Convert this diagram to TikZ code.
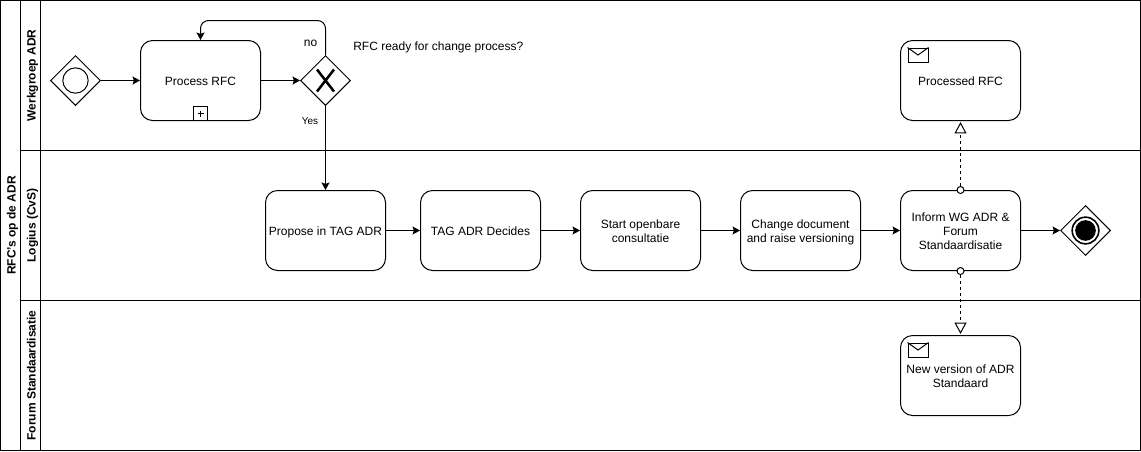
\documentclass[tikz,border=0pt]{standalone}
\usepackage{fontspec}
\setmainfont{Liberation Sans}
\usetikzlibrary{arrows.meta,shapes.geometric}
\newcommand{\tasktext}[2][3pt]{\raisebox{0pt}[\dimexpr\height+#1\relax][\depth]{\begin{tabular}{@{}c@{}}#2\end{tabular}}}
\tikzset{
  x=0.75pt,y=-0.75pt,
  every node/.style={font=\fontsize{9}{10.5}\selectfont,inner sep=0pt,align=center},
  ln/.style={line width=0.75pt,draw=black},
  lane/.style={ln},
  lanetitle/.style={rotate=90,anchor=base,font=\fontsize{9}{10.5}\selectfont\bfseries},
  task/.style={ln,rectangle,rounded corners=9pt,minimum width=90pt,minimum height=60pt},
  gate/.style={ln,diamond,minimum width=37.5pt,minimum height=37.5pt,fill=white},
  flow/.style={ln,-{Stealth[length=5.6pt,width=6pt,inset=1pt]}},
  msg/.style={ln,dashed,dash pattern=on 2.25pt off 2.25pt,-{Triangle[open,fill=white,length=8.5pt,width=9pt,line width=0.75pt]},shorten >=0.8pt},
  dotc/.style={ln,circle,fill=white,minimum size=5.25pt},
  lbl/.style={}
}
\begin{document}
\begin{tikzpicture}
\useasboundingbox (0,0) rectangle (1141,451);
% lanes
\draw[lane] (0.5,0.5) rectangle (1140.5,450.5);
\draw[lane] (20.5,0.5) -- (20.5,450.5);
\draw[lane] (40.5,0.5) -- (40.5,450.5);
\draw[lane] (20.5,150.5) -- (1140.5,150.5);
\draw[lane] (20.5,300.5) -- (1140.5,300.5);
\node[lanetitle] (pool) at (15.5,225.5) {RFC's op de ADR};
\node[lanetitle] (l1) at (35.5,75.5) {Werkgroep ADR};
\node[lanetitle] (l2) at (35.5,225.5) {Logius (CvS)};
\node[lanetitle] (l3) at (35.5,375.5) {Forum Standaardisatie};
% start
\node[gate] (start) at (75.5,80.5) {};
\node[ln,circle,minimum size=19pt] (startc) at (75.5,80.5) {};
% tasks
\node[task] (proc) at (200.5,80.5) {\tasktext{Process RFC}};
\node[ln,rectangle,minimum size=10.5pt,anchor=south] (plus) at (proc.south) {};
\draw[ln] ([xshift=-2.25pt]plus.center) -- ([xshift=2.25pt]plus.center)
          ([yshift=-2.25pt]plus.center) -- ([yshift=2.25pt]plus.center);
\node[gate] (xor) at (325.5,80.5) {};
\draw[line width=1.9pt] (317,69.5) -- (334,91.5) (334,69.5) -- (317,91.5);
\node[task] (prop) at (325.5,230.5) {\tasktext{Propose in TAG ADR}};
\node[task] (tag) at (480.5,230.5) {\tasktext{TAG ADR Decides}};
\node[task] (cons) at (640.5,230.5) {\tasktext{Start openbare\\consultatie}};
\node[task] (chg) at (800.5,230.5) {\tasktext{Change document\\and raise versioning}};
\node[task] (inf) at (960.5,230.5) {\tasktext{Inform WG ADR \&\\Forum\\Standaardisatie}};
\node[task] (done) at (960.5,80.5) {\tasktext{Processed RFC}};
\node[task] (newv) at (960.5,375.5) {\tasktext{New version of ADR\\Standaard}};
% envelopes
\foreach \n/\yy in {e1/47.5,e2/342.5}{
  \node[ln,rectangle,minimum width=15pt,minimum height=10.5pt,anchor=north west] (\n) at (907.5,\yy) {};
  \draw[ln] (\n.north west) -- (\n.center) -- (\n.north east);
}
% end
\node[gate] (end) at (1085.5,230.5) {};
\node[draw=black,line width=1.2pt,circle,minimum size=20pt] (endo) at (1085.5,230.5) {};
\node[fill=black,circle,minimum size=15.5pt] (endi) at (1085.5,230.5) {};
% flows
\draw[flow] (start) -- (proc);
\draw[flow] (proc) -- (xor);
\draw[flow,rounded corners=6pt] (xor.north) -- (325.5,20.5) -- (200.5,20.5) -- (proc.north);
\draw[flow] (xor.south) -- (prop.north);
\draw[flow] (prop) -- (tag);
\draw[flow] (tag) -- (cons);
\draw[flow] (cons) -- (chg);
\draw[flow] (chg) -- (inf);
\draw[flow] (inf) -- (end);
% message flows
\node[dotc] (d1) at (inf.north) {};
\node[dotc] (d2) at (inf.south) {};
\draw[msg] (d1) -- (done.south);
\draw[msg] (d2) -- (newv.north);
% labels
\node[lbl] (no) at (310.5,43) {no};
\node[lbl,font=\fontsize{7.5}{9}\selectfont] (yes) at (310,121) {Yes};
\node[lbl,anchor=west] (q) at (353,47) {RFC ready for change process?};
\end{tikzpicture}
\end{document}
